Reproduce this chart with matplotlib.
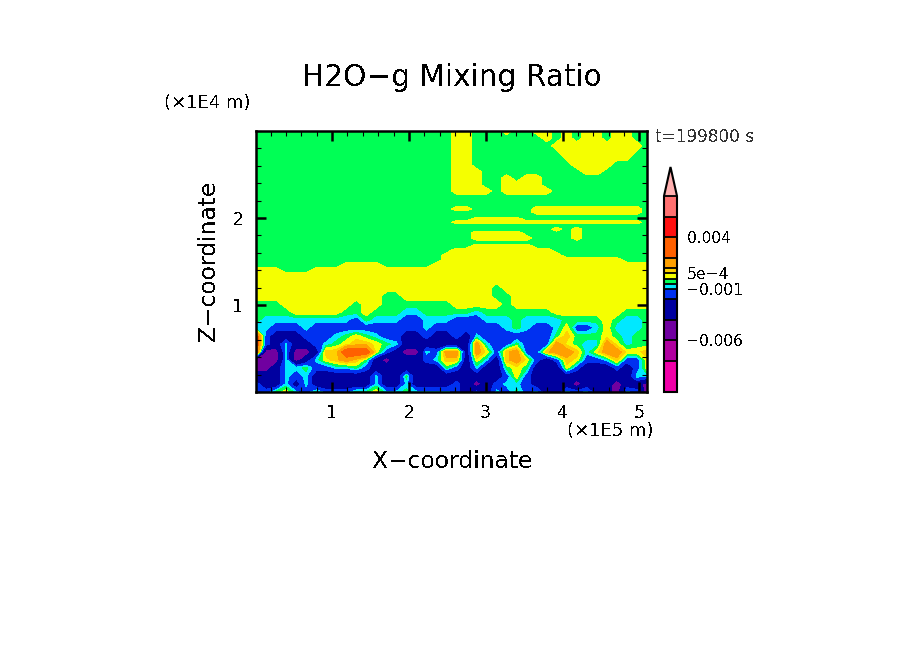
import numpy as np
import matplotlib
matplotlib.use("Agg")
import matplotlib.pyplot as plt
from matplotlib.colors import ListedColormap, BoundaryNorm
from matplotlib.ticker import MultipleLocator

plt.rcParams['font.family'] = ['DejaVu Sans']
plt.rcParams['text.antialiased'] = False

# class values, in units of 1e-4
Y, G, C, B, N, P = 3, -3, -8, -15, -30, -50
g, o, r = 8, 15, 30

z_axis = [3.00, 2.92, 2.83, 2.72, 2.61, 2.53, 2.46, 2.38, 2.31, 2.24, 2.17, 2.10, 2.07,
          2.02, 1.99, 1.95, 1.92, 1.87, 1.83, 1.77, 1.72, 1.68, 1.63, 1.57, 1.52, 1.46,
          1.40, 1.34, 1.29, 1.20, 1.10, 1.01, 0.92, 0.83, 0.74, 0.64, 0.55, 0.46, 0.37,
          0.28, 0.18, 0.09, 0.00]

r131 = [G,G,G,G,G,G,G,G,G,G, G,G,G,G,G,G,G,G,G,G, Y,Y,G,G,G,Y,G,G,Y,Y, G,Y,G,Y,Y,G,Y,Y,G,G]
r138 = [G,G,G,G,G,G,G,G,G,G, G,G,G,G,G,G,G,G,G,G, Y,Y,G,G,G,G,G,G,G,Y, G,Y,G,Y,Y,G,Y,Y,G,G]
r146 = [G,G,G,G,G,G,G,G,G,G, G,G,G,G,G,G,G,G,G,G, Y,Y,G,G,G,G,G,G,G,G, Y,Y,Y,Y,Y,Y,Y,Y,Y,G]
r155 = [G,G,G,G,G,G,G,G,G,G, G,G,G,G,G,G,G,G,G,G, Y,Y,G,G,G,G,G,G,G,G, G,Y,Y,Y,Y,Y,Y,Y,G,G]
r165 = [G,G,G,G,G,G,G,G,G,G, G,G,G,G,G,G,G,G,G,G, Y,Y,G,G,G,G,G,G,G,G, G,G,Y,Y,Y,Y,G,G,G,G]
r172 = [G,G,G,G,G,G,G,G,G,G, G,G,G,G,G,G,G,G,G,G, Y,Y,Y,G,G,G,G,G,G,G, G,G,G,Y,Y,G,G,G,G,G]
r178 = [G,G,G,G,G,G,G,G,G,G, G,G,G,G,G,G,G,G,G,G, Y,Y,Y,G,G,Y,G,Y,Y,G, G,G,G,G,G,G,G,G,G,G]
r185 = [G,G,G,G,G,G,G,G,G,G, G,G,G,G,G,G,G,G,G,G, Y,Y,Y,G,G,Y,Y,Y,Y,G, G,G,G,G,G,G,G,G,G,G]
r191 = [G,G,G,G,G,G,G,G,G,G, G,G,G,G,G,G,G,G,G,G, Y,Y,Y,Y,G,Y,Y,Y,Y,Y, G,G,G,G,G,G,G,G,G,G]
r197 = [G,G,G,G,G,G,G,G,G,G, G,G,G,G,G,G,G,G,G,G, G,G,G,G,G,G,G,G,G,G, G,G,G,G,G,G,G,G,G,G]
r203 = [G,G,G,G,G,G,G,G,G,G, G,G,G,G,G,G,G,G,G,G, G,G,G,G,G,G,G,G,G,G, G,G,G,G,G,G,G,G,G,G]
r209 = [G,G,G,G,G,G,G,G,G,G, G,G,G,G,G,G,G,G,G,G, Y,Y,G,G,G,G,G,G,Y,Y, Y,Y,Y,Y,Y,Y,Y,Y,Y,G]
r212 = [G,G,G,G,G,G,G,G,G,G, G,G,G,G,G,G,G,G,G,G, G,G,G,G,G,G,G,G,Y,Y, Y,Y,Y,Y,Y,Y,Y,Y,Y,G]
r216 = [G,G,G,G,G,G,G,G,G,G, G,G,G,G,G,G,G,G,G,G, G,G,G,G,G,G,G,G,G,G, G,G,G,G,G,G,G,G,G,G]
r219 = [G,G,G,G,G,G,G,G,G,G, G,G,G,G,G,G,G,G,G,G, G,G,Y,Y,Y,Y,Y,G,G,G, G,G,G,G,G,G,G,G,G,G]
r222 = [G,G,G,G,G,G,G,G,G,G, G,G,G,G,G,G,G,G,G,G, Y,Y,Y,Y,Y,Y,Y,Y,Y,Y, Y,Y,Y,Y,Y,Y,Y,Y,Y,G]
r225 = [G,G,G,G,G,G,G,G,G,G, G,G,G,G,G,G,G,G,G,G, G,G,G,G,G,G,G,G,G,G, G,G,G,G,G,G,G,G,G,G]
r229 = [G,G,G,G,G,G,G,G,G,G, G,G,G,G,G,G,G,G,G,G, G,G,G,G,G,G,G,G,G,G, Y,G,Y,G,G,G,G,G,G,G]
r233 = [G,G,G,G,G,G,G,G,G,G, G,G,G,G,G,G,G,G,G,G, G,G,Y,Y,Y,Y,Y,G,G,G, G,G,Y,G,G,G,G,G,G,G]
r238 = [G,G,G,G,G,G,G,G,G,G, G,G,G,G,G,G,G,G,G,G, G,G,Y,Y,Y,Y,Y,Y,G,G, G,G,Y,G,G,G,G,G,G,G]
r242 = [G,G,G,G,G,G,G,G,G,G, G,G,G,G,G,G,G,G,G,G, G,G,G,G,G,G,G,G,G,G, G,G,G,G,G,G,G,G,G,G]
r246 = [G,G,G,G,G,G,G,G,G,G, G,G,G,G,G,G,G,G,G,G, G,G,Y,Y,Y,Y,Y,Y,G,G, G,G,G,G,G,G,G,G,G,G]
r250 = [G,G,G,G,G,G,G,G,G,G, G,G,G,G,G,G,G,G,G,G, Y,Y,Y,Y,Y,Y,Y,Y,Y,Y, G,G,G,G,G,G,G,G,G,G]
r255 = [G,G,G,G,G,G,G,G,G,G, G,G,G,G,G,G,G,G,G,Y, Y,Y,Y,Y,Y,Y,Y,Y,Y,Y, Y,G,G,G,G,G,G,G,G,G]
r260 = [G,G,G,G,G,G,G,G,G,G, G,G,G,G,G,G,G,G,G,Y, Y,Y,Y,Y,Y,Y,Y,Y,Y,Y, Y,Y,Y,Y,Y,Y,Y,G,G,G]
r265 = [G,G,G,G,G,G,G,G,G,Y, Y,Y,Y,G,G,G,G,G,Y,Y, Y,Y,Y,Y,Y,Y,Y,Y,Y,Y, Y,Y,Y,Y,Y,Y,Y,Y,Y,Y]
r270 = [Y,Y,Y,G,G,G,Y,Y,Y,Y, Y,Y,Y,Y,Y,Y,Y,Y,Y,Y, Y,Y,Y,Y,Y,Y,Y,Y,Y,Y, Y,Y,Y,Y,Y,Y,Y,Y,Y,Y]
r275 = [Y,Y,Y,Y,Y,Y,Y,Y,Y,Y, Y,Y,Y,Y,Y,Y,Y,Y,Y,Y, Y,Y,Y,Y,Y,Y,Y,Y,Y,Y, Y,Y,Y,Y,Y,Y,Y,Y,Y,Y]
r280 = [Y,Y,Y,Y,Y,Y,Y,Y,Y,Y, Y,Y,Y,Y,Y,Y,Y,Y,Y,Y, Y,Y,Y,Y,Y,Y,Y,Y,Y,Y, Y,Y,Y,Y,Y,Y,Y,Y,Y,Y]
r288 = [Y,Y,Y,Y,Y,Y,Y,Y,Y,Y, Y,Y,Y,Y,Y,Y,Y,Y,Y,Y, Y,Y,Y,Y,G,Y,Y,Y,Y,Y, Y,Y,Y,Y,Y,Y,Y,Y,Y,Y]
r296 = [Y,Y,Y,Y,Y,Y,Y,Y,Y,Y, Y,Y,Y,G,G,Y,Y,Y,Y,Y, Y,Y,Y,Y,G,G,Y,Y,Y,Y, Y,Y,Y,Y,Y,Y,Y,Y,Y,Y]
r304 = [G,G,G,Y,Y,Y,Y,Y,Y,Y, G,Y,Y,G,G,G,G,G,G,G, Y,Y,Y,Y,Y,G,Y,Y,Y,Y, Y,Y,Y,Y,Y,Y,Y,Y,Y,Y]
r312 = [G,G,G,G,Y,Y,Y,Y,Y,G, G,Y,G,G,G,C,C,G,G,G, G,G,C,G,G,G,G,G,G,G, Y,Y,Y,Y,Y,Y,Y,G,G,G]
r320 = [G,C,C,C,C,C,C,C,C,C, B,G,C,C,C,B,B,C,C,C, B,B,B,C,C,C,G,C,C,C, C,G,G,G,G,Y,G,C,C,G]
r328 = [C,C,B,B,B,C,B,B,B,B, B,B,B,B,B,B,B,C,B,B, B,B,B,B,B,C,G,C,B,B, C,Y,B,B,C,Y,C,C,C,G]
r336 = [r,B,N,N,N,B,B,B,C,G, Y,G,C,B,B,N,N,B,N,N, B,N,C,B,B,B,B,B,B,B, G,g,G,G,G,Y,G,C,G,G]
r344 = [r,B,N,C,N,N,B,C,G,Y, g,g,Y,G,C,N,N,N,N,N, N,N,o,C,B,B,G,B,B,B, o,Y,G,C,C,o,Y,C,G,G]
r352 = [r,P,P,C,P,P,N,g,g,r, r,r,Y,B,N,P,P,C,B,o, o,N,o,Y,B,g,o,B,B,g, o,o,g,C,Y,o,o,Y,Y,g]
r360 = [P,P,P,C,P,N,C,Y,g,o, g,G,N,P,N,N,N,B,C,g, g,N,Y,C,N,g,o,Y,B,N, B,g,Y,B,B,C,g,B,B,Y]
r368 = [P,P,N,C,C,G,B,B,C,C, G,B,N,N,N,N,N,N,N,G, B,N,C,N,N,G,Y,G,N,N, N,Y,B,N,N,N,B,N,B,Y]
r376 = [N,N,N,C,B,C,N,N,N,N, N,N,C,N,N,G,N,N,N,N, N,N,N,N,N,B,Y,B,N,N, N,N,N,N,N,N,N,N,C,C]
r384 = [B,N,N,C,N,C,N,N,N,N, N,N,C,N,N,C,N,N,N,N, B,N,P,N,B,C,C,B,N,N, N,N,P,N,N,N,P,N,N,P]
r392 = [B,B,G,Y,C,B,G,B,B,B, G,G,Y,C,C,G,C,C,C,C, B,N,B,N,C,B,G,B,C,N, N,C,B,C,N,N,P,C,B,P]

rows = [r131, r138, r146, r155, r165, r172, r178, r185, r191, r197, r203, r209, r212, r216,
        r219, r222, r225, r229, r233, r238, r242, r246, r250, r255, r260, r265, r270, r275,
        r280, r288, r296, r304, r312, r320, r328, r336, r344, r352, r360, r368, r376, r384, r392]

levels = [-0.011, -0.008, -0.006, -0.004, -0.002, -0.001, -0.0005, 0,
          0.0005, 0.001, 0.002, 0.004, 0.006, 0.008]
band_colors = ['#F000A8', '#B000A0', '#7000A0', '#0000A0', '#0030F0', '#00E8FF', '#00FF55',
               '#F5FF00', '#FFD000', '#FFA000', '#FF6000', '#FF1010', '#FF7070']
over_color = '#FFB0B0'
cbar_ticks = [0.004, 0.0005, -0.001, -0.006]
cbar_labels = ['0.004', '5e\u22124', '\u22120.001', '\u22120.006']

W, H = 904, 654
fig = plt.figure(figsize=(W / 100, H / 100), dpi=100, facecolor='white')


def box(x0, y0, x1, y1):
    return [x0 / W, 1 - y1 / H, (x1 - x0) / W, (y1 - y0) / H]


ax = fig.add_axes(box(256, 131, 647, 392))
x_axis = np.linspace(0.01, 5.10, 40)
values = np.array(rows, dtype=float) * 1e-4

cmap = ListedColormap(band_colors)
cmap.set_over(over_color)
norm = BoundaryNorm(levels, cmap.N)
cf = ax.contourf(x_axis, z_axis, values, levels=levels, cmap=cmap, norm=norm,
                 extend='max', antialiased=False)
ax.set_xlim(0.01, 5.10)
ax.set_ylim(0, 3)

ax.xaxis.set_major_locator(MultipleLocator(1))
ax.xaxis.set_minor_locator(MultipleLocator(0.2))
ax.yaxis.set_major_locator(MultipleLocator(1))
ax.yaxis.set_minor_locator(MultipleLocator(0.2))
ax.set_xticks([1, 2, 3, 4, 5])
ax.set_yticks([1, 2])
ax.tick_params(which='major', direction='in', length=7.5, width=1.8, top=True, right=True,
               labelsize=12.5, pad=9, color='black')
ax.tick_params(which='minor', direction='in', length=3.6, width=0.8, top=True, right=True)
for s in ax.spines.values():
    s.set_linewidth(1.8)
ax.set_axisbelow(False)

cax = fig.add_axes(box(664, 167, 677, 392))
cb = fig.colorbar(cf, cax=cax, extend='max', extendfrac=29 / 196, spacing='proportional',
                  drawedges=True)
cb.set_ticks(cbar_ticks)
cb.set_ticklabels(cbar_labels)
cb.ax.tick_params(length=0, labelsize=11.2, pad=7)
cb.ax.minorticks_off()
cb.outline.set_linewidth(1.5)
cb.dividers.set_linewidth(1.3)
cb.dividers.set_color('black')


def put(x, y, s, size, **kw):
    fig.text(x / W, 1 - y / H, s, fontsize=size, ha=kw.pop('ha', 'left'),
             va=kw.pop('va', 'center'), **kw)


put(452, 77, 'H2O\u2212g Mixing Ratio', 21.3, ha='center')
put(164, 103, '(\u00d71E4 m)', 13)
put(567, 431, '(\u00d71E5 m)', 13)
put(452, 462, 'X\u2212coordinate', 16.8, ha='center')
put(209, 261, 'Z\u2212coordinate', 16.8, ha='center', rotation=90)
put(655, 137, 't=199800 s', 12.2, color='#333333')

fig.savefig('out.png', dpi=100, facecolor='white')
